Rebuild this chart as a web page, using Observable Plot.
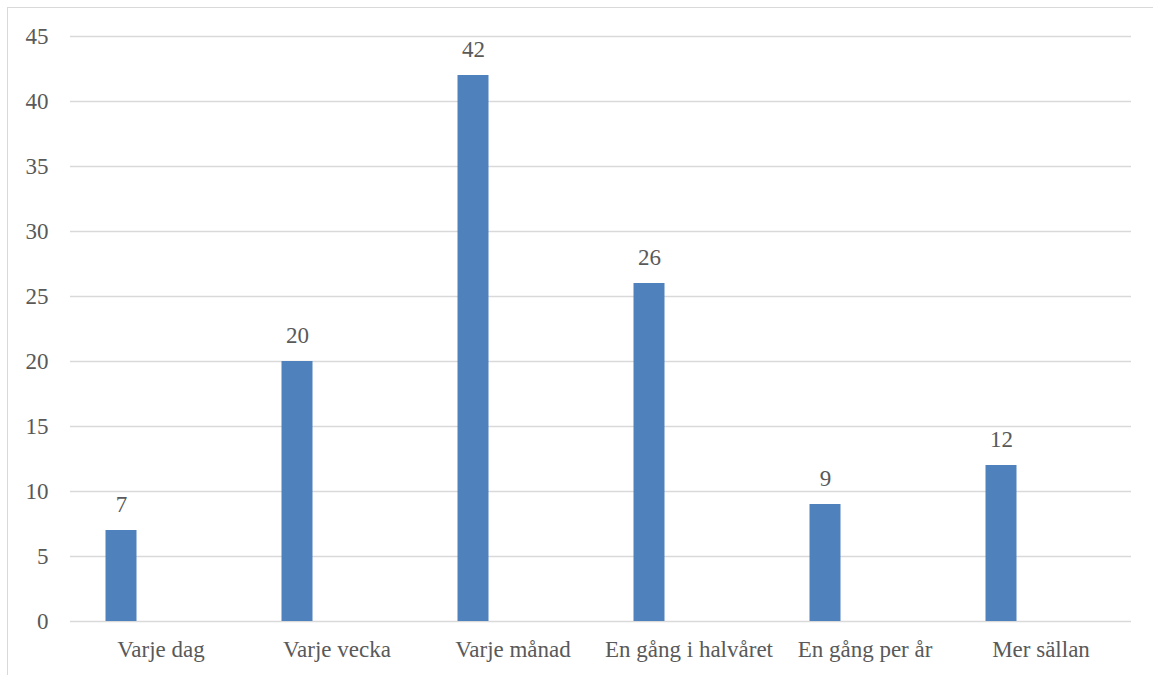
<!DOCTYPE html>
<html>
<head>
<meta charset="utf-8">
<script src="https://cdn.jsdelivr.net/npm/d3@7"></script>
<script src="https://cdn.jsdelivr.net/npm/@observablehq/plot@0.6"></script>
<style>
  html, body { margin: 0; padding: 0; background: #ffffff; }
  #wrap { position: relative; width: 1153px; height: 675px; overflow: hidden; }
  #frame { position: absolute; left: 7px; top: 7px; width: 1160px; height: 690px;
           border: 1px solid #d9d9d9; box-sizing: border-box; pointer-events: none; }
</style>
</head>
<body>
<div id="wrap"><div id="frame"></div></div>
<script>
// How often: answer categories and number of respondents
const categories = ["Varje dag", "Varje vecka", "Varje månad", "En gång i halvåret", "En gång per år", "Mer sällan"];
const counts = [7, 20, 42, 26, 9, 12];
const yTicks = [0, 5, 10, 15, 20, 25, 30, 35, 40, 45];

const rows = categories.map((c, i) => ({category: c, count: counts[i]}));

const font = "Liberation Serif";
const fontSize = 23;
const textColor = "#595959";
const barColor = "#4f81bd";
const gridColor = "#d9d9d9";
const shift = -39.5; // bars sit left of the category centre

const chart = Plot.plot({
  width: 1153,
  height: 675,
  marginLeft: 70,
  marginRight: 22,
  marginTop: 36,
  marginBottom: 54,
  x: {domain: categories, paddingInner: 0.8247, paddingOuter: 0.41235, label: null},
  y: {domain: [0, 45], ticks: yTicks, label: null},
  marks: [
    Plot.gridY(yTicks.filter(d => d > 0), {stroke: gridColor, strokeOpacity: 1, strokeWidth: 1.5}),
    Plot.ruleY([0], {stroke: gridColor, strokeWidth: 1.5}),
    Plot.barY(rows, {x: "category", y: "count", fill: barColor, dx: shift}),
    Plot.text(rows, {x: "category", y: "count", text: d => String(d.count), dx: shift, dy: -25.5,
                     fill: textColor, fontSize, fontFamily: font}),
    Plot.axisY({ticks: yTicks, tickSize: 0, tickPadding: 22, fontSize, fontFamily: font,
                fill: textColor, label: null}),
    Plot.axisX({tickSize: 0, tickPadding: 19, fontSize, fontFamily: font, fill: textColor, label: null})
  ]
});

document.getElementById("wrap").prepend(chart);
</script>
</body>
</html>
